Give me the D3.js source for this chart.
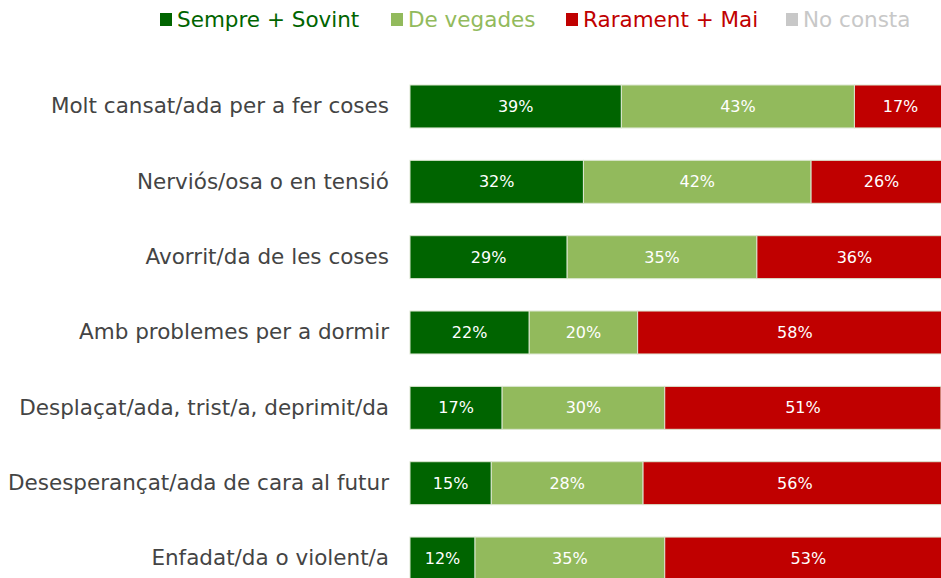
<!DOCTYPE html>
<html>
<head>
<meta charset="utf-8">
<script src="https://cdn.jsdelivr.net/npm/d3@7"></script>
<style>
  body { margin: 0; background: #fff; }
  svg { display: block; }
</style>
</head>
<body>
<div id="chart"></div>
<script>
// categories (top to bottom)
var categories = [
  "Molt cansat/ada per a fer coses",
  "Nerviós/osa o en tensió",
  "Avorrit/da de les coses",
  "Amb problemes per a dormir",
  "Desplaçat/ada, trist/a, deprimit/da",
  "Desesperançat/ada de cara al futur",
  "Enfadat/da o violent/a"
];

// series values (%)
var sempreSovint = [39, 32, 29, 22, 17, 15, 12];
var deVegades    = [43, 42, 35, 20, 30, 28, 35];
var rarament     = [17, 26, 36, 58, 51, 56, 53];
var noConsta     = [1, 0, 0, 0, 2, 1, 0];

var seriesNames  = ["Sempre + Sovint", "De vegades", "Rarament + Mai", "No consta"];
var seriesColors = ["#006400", "#92BA5C", "#C00000", "#C8C8C8"];

var width = 941, height = 578;
var font = "DejaVu Sans, Verdana, sans-serif";

var svg = d3.select("#chart").append("svg")
    .attr("width", width)
    .attr("height", height);

// build rows for the stack
var keys = ["s", "v", "r", "n"];
var rows = categories.map(function (c, i) {
  return { cat: c, s: sempreSovint[i], v: deVegades[i], r: rarament[i], n: noConsta[i] };
});
var stacked = d3.stack().keys(keys)(rows);

var x = d3.scaleLinear().domain([0, 100]).range([410, 952]);
var y = d3.scaleBand()
    .domain(categories)
    .range([85, 580])
    .paddingInner(0.43)
    .paddingOuter(0);

var color = d3.scaleOrdinal().domain(keys).range(seriesColors);

// category labels
svg.append("g")
    .attr("transform", "translate(389,0)")
    .call(d3.axisLeft(y).tickSize(0).tickPadding(0))
    .call(function (g) { g.select(".domain").remove(); })
    .selectAll("text")
    .attr("font-family", font)
    .attr("font-size", 21.5)
    .attr("fill", "#444");

// bars
var layer = svg.append("g").selectAll("g")
    .data(stacked)
    .enter().append("g")
    .attr("fill", function (d) { return color(d.key); });

layer.selectAll("rect")
    .data(function (d) { return d; })
    .enter().append("rect")
    .attr("x", function (d) { return x(d[0]); })
    .attr("y", function (d) { return y(d.data.cat); })
    .attr("width", function (d) { return x(d[1]) - x(d[0]); })
    .attr("height", y.bandwidth())
    .attr("stroke", "#dbe6d0")
    .attr("stroke-width", 1);

// value labels (skip the "no consta" slivers)
layer.filter(function (d) { return d.key !== "n"; })
  .selectAll("text")
    .data(function (d) { return d; })
    .enter().append("text")
    .attr("x", function (d) { return (x(d[0]) + x(d[1])) / 2; })
    .attr("y", function (d) { return y(d.data.cat) + y.bandwidth() / 2; })
    .attr("dy", "0.35em")
    .attr("text-anchor", "middle")
    .attr("font-family", font)
    .attr("font-size", 16)
    .attr("fill", "#fff")
    .text(function (d) { return (d[1] - d[0]) + "%"; });

// legend
var legendX = [160, 391, 566, 786];
var legend = svg.append("g").selectAll("g")
    .data(seriesNames)
    .enter().append("g")
    .attr("transform", function (d, i) { return "translate(" + legendX[i] + ",0)"; });

legend.append("rect")
    .attr("x", 0)
    .attr("y", 13)
    .attr("width", 12)
    .attr("height", 13)
    .attr("fill", function (d, i) { return seriesColors[i]; });

legend.append("text")
    .attr("x", 17)
    .attr("y", 27)
    .attr("font-family", font)
    .attr("font-size", 21.5)
    .attr("fill", function (d, i) { return seriesColors[i]; })
    .text(function (d) { return d; });
</script>
</body>
</html>
